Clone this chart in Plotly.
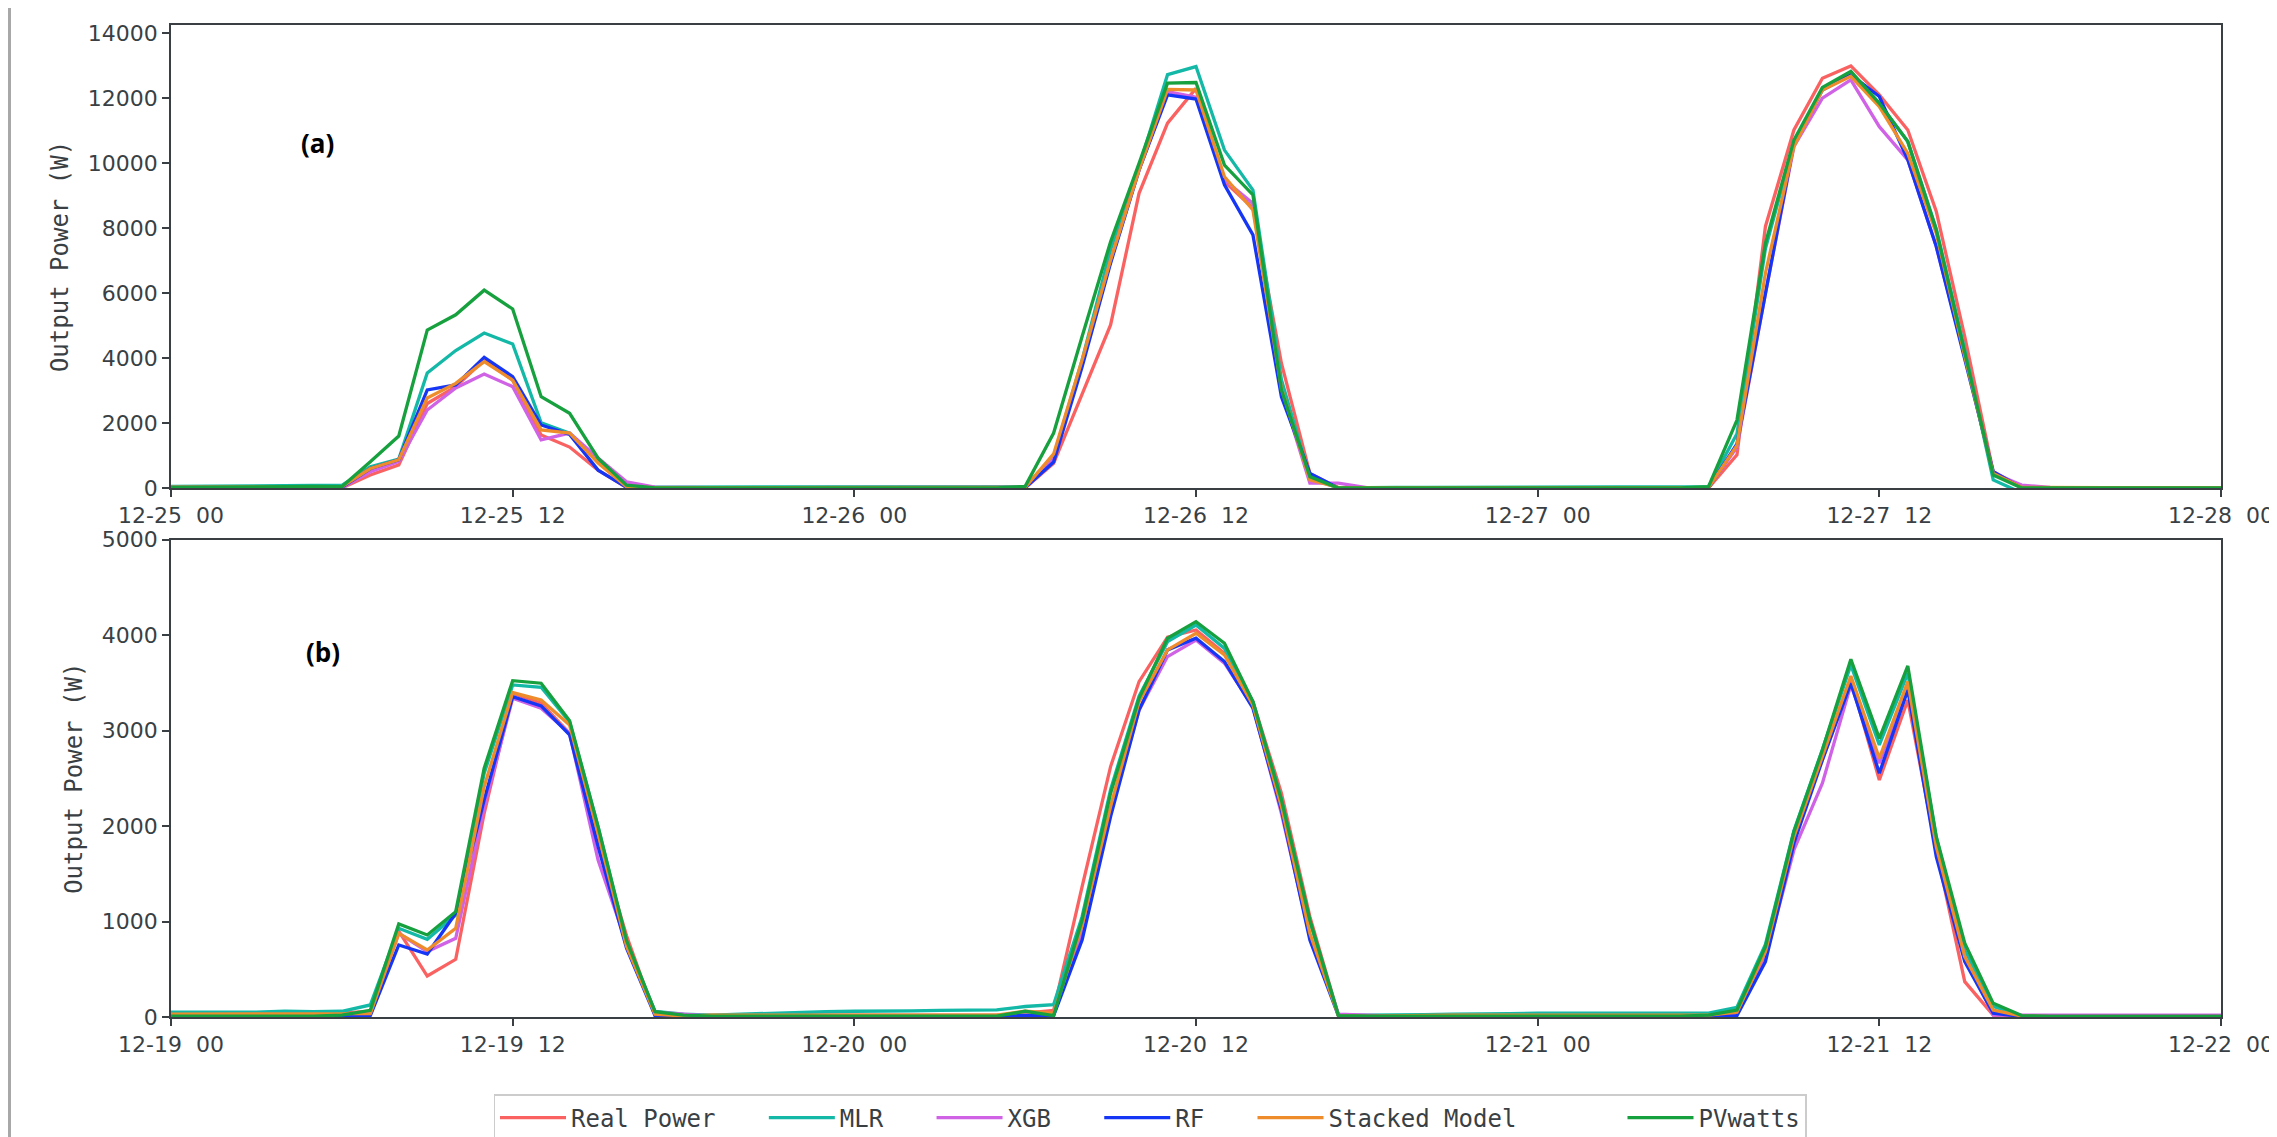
import plotly.graph_objects as go
from plotly.subplots import make_subplots

# ---------------- data ----------------
hours = list(range(73))

tick_hours = [0, 12, 24, 36, 48, 60, 72]
ticks_a = ["12-25\u00a0\u00a000", "12-25\u00a0\u00a012", "12-26\u00a0\u00a000", "12-26\u00a0\u00a012",
           "12-27\u00a0\u00a000", "12-27\u00a0\u00a012", "12-28\u00a0\u00a000"]
ticks_b = ["12-19\u00a0\u00a000", "12-19\u00a0\u00a012", "12-20\u00a0\u00a000", "12-20\u00a0\u00a012",
           "12-21\u00a0\u00a000", "12-21\u00a0\u00a012", "12-22\u00a0\u00a000"]
yticks_a = [0, 2000, 4000, 6000, 8000, 10000, 12000, 14000]
yticks_b = [0, 1000, 2000, 3000, 4000, 5000]

series_names = ["Real Power", "MLR", "XGB", "RF", "Stacked Model", "PVwatts"]
legend_pad = [3, 3, 3, 3, 7, 0]   # blank space after each legend entry
colors = ["#fa6262", "#13b8a6", "#d062e6", "#1636f5", "#ee8c2c", "#17a03e"]

# Panel (a): 12-25 00 .. 12-28 00, hourly
a_real = [0, 0, 0, 0, 0, 0, 0, 400, 710, 2600, 3120, 3940, 3320, 1630, 1260, 550, 20, 0,
          0, 0, 0, 0, 0, 0, 0, 0, 0, 0, 0, 0, 0, 760, 2910, 5020, 9070, 11230, 12300, 9430,
          8620, 3840, 450, 0, 0, 0, 0, 0, 0, 0, 0, 0, 0, 0, 0, 0, 0, 1020, 8050, 11020, 12610,
          12990, 12100, 11020, 8510, 4660, 500, 40, 0, 0, 0, 0, 0, 0, 0]
a_mlr = [50, 50, 50, 60, 70, 80, 80, 650, 890, 3540, 4230, 4770, 4430, 2010, 1690, 810, 40, 30,
         30, 30, 30, 30, 30, 30, 30, 30, 30, 30, 30, 30, 40, 960, 3940, 7330, 9890, 12720, 12970, 10400,
         9170, 3330, 300, 0, 20, 20, 20, 20, 20, 20, 20, 20, 20, 20, 20, 20, 40, 1670, 7370, 10610, 12300,
         12750, 11840, 10660, 7970, 4250, 250, -150, 0, 0, 0, 0, 0, 0, 0]
a_xgb = [20, 20, 20, 20, 20, 20, 10, 500, 820, 2400, 3080, 3510, 3120, 1480, 1690, 920, 190, 30,
         10, 10, 10, 10, 10, 10, 10, 10, 10, 10, 10, 10, 20, 900, 3800, 7000, 9790, 12200, 12030, 9480,
         8760, 3000, 150, 150, 10, 10, 10, 10, 10, 10, 10, 10, 10, 10, 10, 10, 10, 1260, 5990, 10510, 12000,
         12560, 11120, 10100, 7430, 4060, 450, 90, 20, 10, 10, 10, 10, 10, 10]
a_rf = [10, 10, 10, 10, 10, 10, 20, 600, 870, 3020, 3170, 4020, 3430, 1940, 1650, 550, 20, 0,
        5, 5, 5, 5, 5, 5, 5, 5, 5, 5, 5, 5, 10, 800, 3730, 6920, 9790, 12100, 11970, 9330,
        7790, 2810, 450, 0, 5, 5, 5, 5, 5, 5, 5, 5, 5, 5, 5, 5, 0, 1360, 5990, 10610, 12250,
        12720, 12050, 10100, 7430, 3930, 500, 0, 5, 5, 5, 5, 5, 5, 5]
a_stk = [30, 30, 30, 30, 30, 30, 40, 600, 870, 2770, 3220, 3890, 3320, 1790, 1690, 770, 40, 10,
         10, 10, 10, 10, 10, 10, 10, 10, 10, 10, 10, 10, 20, 1050, 3940, 7020, 9790, 12270, 12250, 9580,
         8560, 3070, 250, 20, 10, 10, 10, 10, 10, 10, 10, 10, 10, 10, 10, 10, 10, 1310, 6610, 10510, 12250,
         12670, 11740, 10300, 7840, 4060, 450, 20, 10, 10, 10, 10, 10, 10, 10]
a_pv = [20, 20, 20, 30, 40, 50, 40, 810, 1600, 4860, 5330, 6090, 5510, 2810, 2300, 920, 90, 0,
        0, 0, 0, 0, 0, 0, 0, 0, 0, 0, 0, 0, 50, 1690, 4660, 7580, 9990, 12460, 12480, 9940,
        9020, 3020, 350, 0, 0, 0, 0, 0, 0, 0, 0, 0, 0, 0, 0, 0, 40, 2090, 7530, 10710, 12330,
        12820, 11840, 10660, 7940, 4150, 400, 0, 0, 0, 0, 0, 0, 0, 0]

# Panel (b): 12-19 00 .. 12-22 00, hourly
b_real = [30, 30, 30, 30, 30, 30, 40, 60, 900, 429, 604, 2133, 3390, 3285, 2970, 1853, 850, 15,
          10, 20, 20, 20, 20, 20, 20, 20, 20, 20, 20, 20, 40, 70, 1365, 2622, 3512, 3977, 4053, 3809,
          3302, 2343, 1051, 21, 10, 10, 10, 10, 10, 15, 20, 20, 20, 20, 20, 20, 20, 50, 632, 1941, 2692,
          3530, 2482, 3320, 1749, 370, 20, 5, 5, 5, 5, 5, 5, 5, 5]
b_mlr = [50, 50, 50, 50, 60, 55, 60, 126, 929, 814, 1068, 2552, 3477, 3453, 3090, 1990, 780, 60,
         30, 20, 30, 40, 50, 55, 60, 60, 65, 70, 70, 75, 110, 130, 1050, 2380, 3360, 3930, 4105, 3860,
         3300, 2280, 1000, 20, 20, 20, 25, 30, 30, 35, 40, 40, 40, 40, 40, 40, 40, 102, 760, 1950, 2800,
         3687, 2849, 3600, 1880, 700, 110, 10, 5, 5, 5, 5, 5, 5, 5]
b_xgb = [20, 20, 20, 20, 20, 20, 20, 50, 876, 685, 824, 2202, 3338, 3233, 2970, 1644, 770, 50,
         30, 10, 10, 10, 10, 10, 10, 10, 10, 10, 10, 10, 40, 30, 900, 2150, 3215, 3774, 3948, 3705,
         3250, 2133, 841, 30, 20, 10, 10, 10, 10, 10, 10, 10, 10, 10, 10, 10, 10, 40, 620, 1749, 2448,
         3478, 2657, 3460, 1749, 632, 20, 20, 20, 20, 20, 20, 20, 20, 20]
b_rf = [5, 5, 5, 5, 5, 5, 10, 15, 754, 660, 1086, 2273, 3355, 3257, 2954, 1784, 720, 15,
        5, 10, 10, 10, 10, 10, 10, 10, 10, 10, 10, 10, 10, 15, 806, 2098, 3215, 3844, 3966, 3722,
        3233, 2168, 806, 15, 10, 10, 10, 10, 10, 10, 10, 10, 10, 10, 10, 10, 5, 15, 579, 1819, 2692,
        3495, 2552, 3425, 1679, 579, 40, 5, 5, 5, 5, 5, 5, 5, 5]
b_stk = [30, 30, 30, 30, 30, 30, 30, 35, 876, 702, 929, 2412, 3397, 3320, 3058, 1924, 740, 30,
         10, 20, 20, 20, 20, 20, 20, 20, 20, 20, 20, 20, 60, 40, 964, 2203, 3302, 3844, 4018, 3791,
         3267, 2203, 876, 15, 10, 15, 15, 20, 20, 20, 20, 20, 20, 20, 20, 20, 20, 50, 684, 1888, 2726,
         3571, 2709, 3512, 1784, 632, 73, 10, 5, 5, 5, 5, 5, 5, 5]
b_pv = [10, 10, 10, 10, 10, 10, 20, 70, 974, 859, 1103, 2605, 3522, 3495, 3103, 1993, 800, 56,
        20, 10, 10, 10, 10, 10, 10, 10, 10, 10, 10, 10, 60, 15, 1016, 2343, 3338, 3966, 4140, 3914,
        3302, 2273, 1016, 15, 10, 10, 10, 10, 10, 10, 10, 10, 10, 10, 10, 10, 20, 73, 737, 1941, 2796,
        3746, 2918, 3676, 1888, 772, 143, 15, 5, 5, 5, 5, 5, 5, 5]

panel_a = [a_real, a_mlr, a_xgb, a_rf, a_stk, a_pv]
panel_b = [b_real, b_mlr, b_xgb, b_rf, b_stk, b_pv]

# ---------------- figure ----------------
W, H = 2277, 1137
OFF = 8  # page body margin of the html page
ML, MR, MT, MB = 171 - OFF, 2277 - 2221 + OFF, 25 - OFF, 1137 - 1017 + OFF
plot_h = H - MT - MB
plot_w = W - ML - MR
y_bot = 1017 - OFF
dom_a = [(y_bot - (488 - OFF)) / plot_h, 1.0]
dom_b = [0.0, (y_bot - (539.5 - OFF)) / plot_h]

fig = make_subplots(rows=2, cols=1)

for i, name in enumerate(series_names):
    fig.add_trace(go.Scatter(x=hours, y=panel_a[i], mode="lines",
                             name=name + "\u00a0" * legend_pad[i],
                             line=dict(color=colors[i], width=3.3), legendgroup=name,
                             showlegend=True), row=1, col=1)
for i, name in enumerate(series_names):
    fig.add_trace(go.Scatter(x=hours, y=panel_b[i], mode="lines", name=name,
                             line=dict(color=colors[i], width=3.3), legendgroup=name,
                             showlegend=False), row=2, col=1)

axis_line = "#3a3f44"
tick_font = dict(family="DejaVu Sans", size=22, color="#3a3f44")

common_x = dict(range=[0, 72], showgrid=False, zeroline=False, showline=True, linecolor=axis_line,
                linewidth=1.5, mirror=True, ticks="outside", ticklen=7, tickwidth=1.5,
                tickcolor=axis_line, tickfont=tick_font, tickvals=tick_hours)
common_y = dict(showgrid=False, zeroline=False, showline=True, linecolor=axis_line, linewidth=1.5,
                mirror=True, ticks="outside", ticklen=7, tickwidth=1.5, tickcolor=axis_line,
                tickfont=tick_font, tickformat="d",
                title_text="Output Power (W)",
                title_font=dict(family="DejaVu Sans Mono", size=24, color="#3a3f44"),
                title_standoff=12)

fig.update_xaxes(**common_x, ticktext=ticks_a, row=1, col=1)
fig.update_xaxes(**common_x, ticktext=ticks_b, row=2, col=1)
fig.update_yaxes(**common_y, range=[0, 14250], tickvals=yticks_a, row=1, col=1)
fig.update_yaxes(**common_y, range=[0, 5000], tickvals=yticks_b, row=2, col=1)
fig.update_layout(yaxis=dict(domain=dom_a), yaxis2=dict(domain=dom_b))

fig.add_annotation(text="<b>(a)</b>", xref="x domain", yref="y domain", x=0.0717, y=0.745,
                   xanchor="center", yanchor="middle",
                   showarrow=False, font=dict(family="Open Sans", size=26, color="black"))
fig.add_annotation(text="<b>(b)</b>", xref="x2 domain", yref="y2 domain", x=0.0741, y=0.7645,
                   xanchor="center", yanchor="middle",
                   showarrow=False, font=dict(family="Open Sans", size=26, color="black"))

# left frame line of the original image
fig.add_shape(type="line", xref="paper", yref="paper", x0=(1.5 - ML) / plot_w,
              x1=(1.5 - ML) / plot_w, y0=-MB / plot_h, y1=1 + MT / plot_h,
              line=dict(color="#a8a8a8", width=3))

fig.update_layout(
    width=W, height=H,
    margin=dict(l=ML, r=MR, t=MT, b=MB, autoexpand=False),
    paper_bgcolor="white", plot_bgcolor="white",
    legend=dict(orientation="h", xanchor="center", yanchor="top",
                x=(1150 - OFF - ML) / plot_w, y=(y_bot - (1094 - OFF)) / plot_h,
                font=dict(family="DejaVu Sans Mono", size=24, color="#3a3f44"),
                bordercolor="#cccccc", borderwidth=1.5, bgcolor="white",
                itemwidth=66, traceorder="normal"),
)

fig.write_html("out.html")
